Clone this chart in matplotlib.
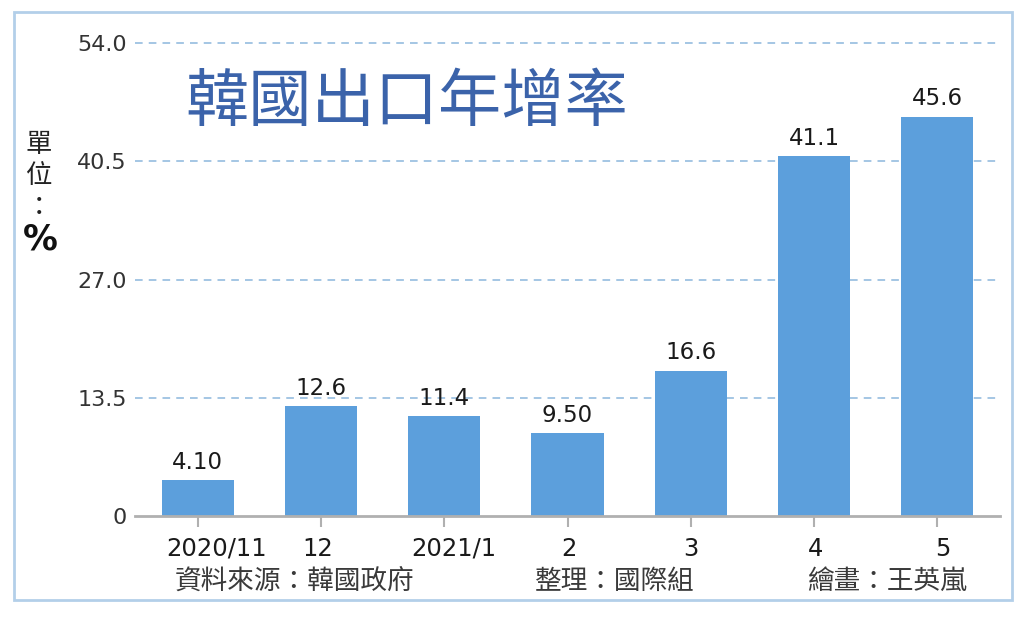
import matplotlib
matplotlib.use("Agg")
import matplotlib.pyplot as plt
from matplotlib.patches import Rectangle
from matplotlib.transforms import ScaledTranslation

plt.rcParams['font.family'] = ['Noto Sans CJK TC', 'DejaVu Sans']

categories = ["2020/11", "12", "2021/1", "2", "3", "4", "5"]
values = [4.10, 12.6, 11.4, 9.50, 16.6, 41.1, 45.6]
value_labels = ["4.10", "12.6", "11.4", "9.50", "16.6", "41.1", "45.6"]
yticks = [0, 13.5, 27.0, 40.5, 54.0]
ytick_labels = ["0", "13.5", "27.0", "40.5", "54.0"]
title = "韓國出口年增率"
footer = ["資料來源：韓國政府", "整理：國際組", "繪畫：王英嵐"]

W, H = 1024, 619
fig = plt.figure(figsize=(W/100, H/100), dpi=100)
fig.patch.set_facecolor("white")

# outer border
fig.patches.append(Rectangle((14/W, 1-600/H), (1012-14)/W, (600-12)/H,
                             transform=fig.transFigure, fill=False,
                             edgecolor="#b3cfe9", linewidth=2))

ax = fig.add_axes([135/W, 1-516/H, (1000-135)/W, (516-43)/H])
x = list(range(len(categories)))
bar_color = "#5c9fdc"
ax.bar(x, values, width=0.585, color=bar_color, zorder=3)
ax.set_xlim(-0.51, len(categories)-0.49)
ax.set_ylim(0, 54)

for yv in yticks[1:]:
    ax.axhline(yv, color="#8cb6dc", linestyle=(0, (5, 4)), linewidth=1.1,
               zorder=1, clip_on=False)

for s in ["top", "right", "left"]:
    ax.spines[s].set_visible(False)
ax.spines["bottom"].set_color("#b0b0b0")
ax.spines["bottom"].set_linewidth(2)
ax.spines["bottom"].set_zorder(4)

ax.set_yticks(yticks)
ax.set_yticklabels(ytick_labels, fontsize=16, color="#333333", family="DejaVu Sans")
ax.tick_params(axis="y", length=0, pad=6)
ax.set_xticks(x)
ax.set_xticklabels(categories, fontsize=17.5, color="#1a1a1a", family="DejaVu Sans")
ax.tick_params(axis="x", length=8, width=1.5, color="#b0b0b0", pad=7)

# slight horizontal shifts of tick labels as in the reference
shifts_px = [19, -3, 10, 1, 0, 2, 6]
for lab, dx in zip(ax.get_xticklabels(), shifts_px):
    lab.set_transform(lab.get_transform() + ScaledTranslation(dx/100, 0, fig.dpi_scale_trans))

for xi, v, lab in zip(x, values, value_labels):
    ax.text(xi, v + 0.7, lab, ha="center", va="bottom", fontsize=16.5,
            color="#1a1a1a", family="DejaVu Sans")

fig.text(185/W, 1-103/H, title, fontsize=45.5, color="#3b63aa",
         ha="left", va="center", fontweight="medium")

# unit label (vertical)
fig.text(39/W, 1-145/H, "單", fontsize=19, color="#222222", ha="center", va="center")
fig.text(39/W, 1-175/H, "位", fontsize=19, color="#222222", ha="center", va="center")
fig.text(39/W, 1-207/H, "：", fontsize=19, color="#222222", ha="center", va="center")
fig.text(40/W, 1-240/H, "%", fontsize=25, color="#111111", ha="center", va="center",
         fontweight="bold", family="DejaVu Sans")

fig.text(175/W, 1-581/H, footer[0], fontsize=19.2, color="#3a3a3a", ha="left", va="center")
fig.text(535/W, 1-581/H, footer[1], fontsize=19.2, color="#3a3a3a", ha="left", va="center")
fig.text(807/W, 1-581/H, footer[2], fontsize=19.2, color="#3a3a3a", ha="left", va="center")

fig.savefig("out.png", dpi=100)
